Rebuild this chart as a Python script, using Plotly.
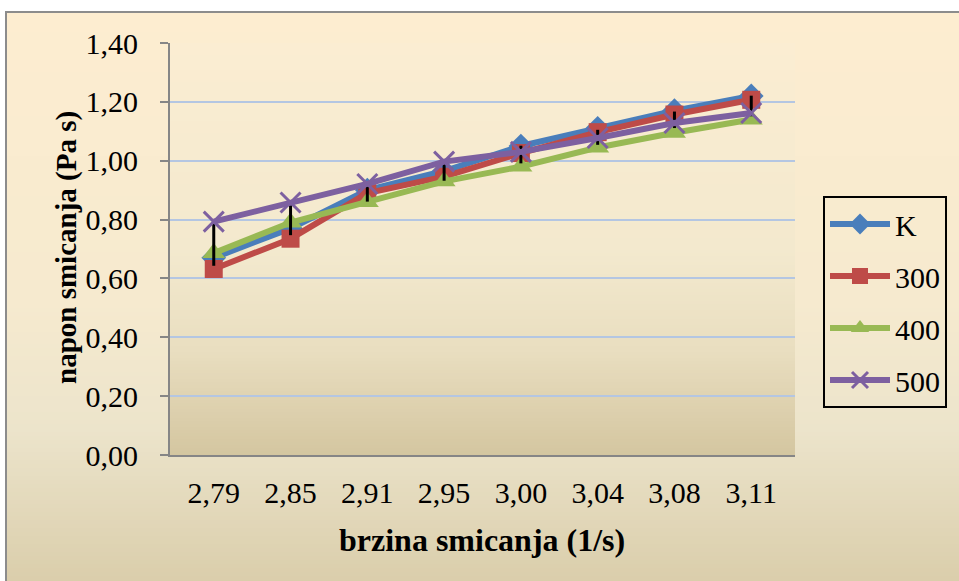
import plotly.graph_objects as go

# data
shear_rate = ["2,79", "2,85", "2,91", "2,95", "3,00", "3,04", "3,08", "3,11"]
k_vals = [0.67, 0.77, 0.90, 0.965, 1.05, 1.11, 1.17, 1.22]
s300_vals = [0.632, 0.735, 0.89, 0.946, 1.026, 1.097, 1.157, 1.207]
s400_vals = [0.686, 0.79, 0.86, 0.93, 0.98, 1.045, 1.095, 1.14]
s500_vals = [0.793, 0.858, 0.921, 0.997, 1.03, 1.077, 1.128, 1.162]
err_high = [0.793, 0.861, 0.924, 0.995, 1.051, 1.105, 1.167, 1.221]
err_low = [0.643, 0.747, 0.861, 0.932, 0.991, 1.054, 1.111, 1.151]

W, H = 959, 581
L, R, T, B = 170, 795, 43, 455  # plot area in pixels

FONT = "Liberation Serif"
FS = 30


def px_x(px):
    return (px - L) / (R - L)


def px_y(py):
    return (B - py) / (B - T)


def interp(stops, y):
    for (y0, c0), (y1, c1) in zip(stops, stops[1:]):
        if y0 <= y <= y1:
            f = (y - y0) / (y1 - y0)
            return tuple(round(a + (b - a) * f) for a, b in zip(c0, c1))
    return stops[-1][1] if y > stops[-1][0] else stops[0][1]


def gradient_bands(x0, x1, y0, y1, stops, step=3):
    shapes = []
    y = y0
    while y < y1:
        c = interp(stops, y + step / 2)
        shapes.append(dict(
            type="rect", xref="paper", yref="paper", layer="below",
            x0=px_x(x0), x1=px_x(x1), y0=px_y(y), y1=px_y(min(y + step + 1, y1)),
            fillcolor="rgb(%d,%d,%d)" % c, line=dict(width=0),
        ))
        y += step
    return shapes


outer_stops = [(12, (253, 237, 208)), (300, (246, 234, 207)),
               (430, (236, 228, 203)), (600, (216, 203, 167))]
plot_stops = [(43, (251, 237, 210)), (250, (243, 233, 206)),
              (350, (233, 222, 192)), (455, (212, 198, 160))]

shapes = gradient_bands(6, 1000, 12, 620, outer_stops, step=4)
shapes += gradient_bands(L, R, T, B, plot_stops, step=3)
shapes.append(dict(type="rect", xref="paper", yref="paper", layer="below",
                   x0=px_x(6), x1=px_x(1000), y0=px_y(12), y1=px_y(620),
                   line=dict(color="#8c8c8c", width=2), fillcolor="rgba(0,0,0,0)"))

fig = go.Figure()

series = [
    ("K", k_vals, "#4a7ebb", dict(symbol="diamond", size=19)),
    ("300", s300_vals, "#be4b48", dict(symbol="square", size=18)),
    ("400", s400_vals, "#98b954", dict(symbol="triangle-up", size=20)),
    ("500", s500_vals, "#7d60a0", dict(symbol="x-thin", size=20,
                                       line=dict(width=3, color="#7d60a0"))),
]

for name, vals, color, marker in series:
    trace = go.Scatter(
        x=shear_rate, y=vals, name=name, legendgroup=name,
        mode="lines+markers",
        line=dict(color=color, width=6),
        marker=dict(color=color, **marker),
    )
    if name == "500":
        trace.error_y = dict(
            type="data", symmetric=False,
            array=[h - v for h, v in zip(err_high, vals)],
            arrayminus=[v - l for l, v in zip(err_low, vals)],
            color="black", thickness=3, width=0,
        )
    fig.add_trace(trace)

fig.update_layout(
    width=W, height=H,
    margin=dict(l=L, r=W - R, t=T, b=H - B),
    paper_bgcolor="white",
    plot_bgcolor="rgba(0,0,0,0)",
    separators=",.",
    font=dict(family=FONT, size=FS, color="black"),
    shapes=shapes,
    showlegend=True,
    legend=dict(
        x=px_x(823), y=px_y(196), xanchor="left", yanchor="top",
        bordercolor="black", borderwidth=2, bgcolor="rgba(0,0,0,0)",
        font=dict(family=FONT, size=FS), tracegroupgap=10, itemwidth=60,
    ),
    annotations=[
        dict(text="<b>brzina smicanja (1/s)</b>", xref="paper", yref="paper",
             x=px_x(482), y=px_y(540), xanchor="center", yanchor="middle",
             showarrow=False, font=dict(family=FONT, size=32)),
        dict(text="<b>napon smicanja (Pa s)</b>", xref="paper", yref="paper",
             x=px_x(66), y=px_y(248), xanchor="center", yanchor="middle",
             showarrow=False, textangle=-90, font=dict(family=FONT, size=29)),
    ],
)

fig.update_xaxes(
    type="category", showline=True, linecolor="#868686", linewidth=2,
    showgrid=False, ticks="", ticklabelstandoff=10,
    tickfont=dict(family=FONT, size=FS),
)
fig.update_yaxes(
    range=[0, 1.4], dtick=0.2, tickformat=".2f",
    showline=True, linecolor="#868686", linewidth=2,
    showgrid=True, gridcolor="#b4c6e2", gridwidth=2,
    ticks="outside", ticklen=8, tickcolor="#868686", tickwidth=2,
    ticklabelstandoff=16, zeroline=False,
    tickfont=dict(family=FONT, size=FS),
)

# drop the default page margin so the figure sits at the window corner
fig.write_html(
    "out.html",
    config=dict(displayModeBar=False),
    post_script="document.body.style.margin='0';document.body.style.overflow='hidden';",
)
